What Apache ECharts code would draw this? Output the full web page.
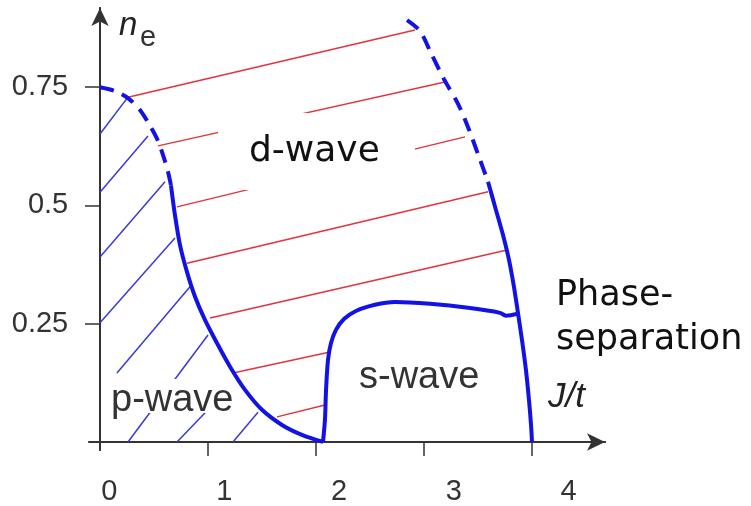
<!DOCTYPE html>
<html>
<head>
<meta charset="utf-8">
<script src="https://cdn.jsdelivr.net/npm/echarts@6/dist/echarts.min.js"></script>
<style>
html, body { margin: 0; padding: 0; background: #fff; }
#main { width: 751px; height: 506px; }
</style>
</head>
<body>
<div id="main"></div>
<script>
var xTicks = [1, 2, 3, 4];
var xInnerTicks = [1, 3];
var xTickLabels = [0, 1, 2, 3, 4];
var yTicks = [0.25, 0.5, 0.75];

// p-wave / d-wave border (dashed top, solid below)
var pdDashed = [[0, 0.750], [0.139, 0.742], [0.259, 0.727], [0.370, 0.702], [0.454, 0.672],
    [0.528, 0.641], [0.583, 0.607], [0.630, 0.571], [0.657, 0.543]];
var pdSolid = [[0.657, 0.543], [0.694, 0.480], [0.741, 0.416], [0.806, 0.359], [0.880, 0.307],
    [0.972, 0.258], [1.083, 0.209], [1.204, 0.159], [1.343, 0.110], [1.500, 0.068],
    [1.685, 0.036], [1.870, 0.015], [2.065, 0.0]];

// d-wave / phase separation border
var psDashed = [[2.843, 0.892], [2.963, 0.869], [3.065, 0.822], [3.185, 0.767], [3.315, 0.715],
    [3.417, 0.660], [3.509, 0.603], [3.593, 0.550]];
var psSolid = [[3.593, 0.550], [3.667, 0.490], [3.731, 0.438], [3.787, 0.385], [3.833, 0.328],
    [3.870, 0.273], [3.907, 0.216], [3.944, 0.152], [3.972, 0.089], [3.991, 0.036], [4.0, 0.0]];

// s-wave dome
var sDome = [[2.065, 0.0], [2.083, 0.047], [2.093, 0.110], [2.111, 0.173], [2.139, 0.209],
    [2.185, 0.237], [2.259, 0.260], [2.370, 0.277], [2.546, 0.290], [2.731, 0.296],
    [3.056, 0.292], [3.426, 0.283], [3.704, 0.273], [3.759, 0.267], [3.870, 0.271]];

// hatching of the d-wave region
var redHatch = [
    [[0.259, 0.729], [2.917, 0.871]],
    [[0.537, 0.626], [3.194, 0.761]],
    [[0.713, 0.497], [3.380, 0.645]],
    [[0.806, 0.378], [3.593, 0.529]],
    [[1.019, 0.262], [3.769, 0.406]],
    [[1.231, 0.146], [2.130, 0.190]],
    [[1.639, 0.053], [2.083, 0.078]]
];

// hatching of the p-wave region
var blueHatch = [
    [[0, 0.651], [0.259, 0.729]],
    [[0, 0.528], [0.444, 0.647]],
    [[0, 0.391], [0.602, 0.550]],
    [[0, 0.252], [0.694, 0.431]],
    [[0.157, 0.146], [0.833, 0.328]],
    [[0.259, 0], [1.0, 0.226]],
    [[0.713, 0], [1.222, 0.121]],
    [[1.231, 0], [1.463, 0.063]]
];

var chart = echarts.init(document.getElementById('main'));

var axisColor = '#333';
var blue = '#1212e6';

var labelFont = {
    fontSize: 29,
    fontFamily: 'Liberation Sans',
    color: '#333'
};

function curve(data, dashed) {
    return {
        type: 'line',
        data: data,
        showSymbol: false,
        smooth: 0.3,
        clip: false,
        z: 3,
        silent: true,
        lineStyle: {
            color: blue,
            width: 4,
            type: dashed ? [14, 9] : 'solid',
            cap: 'butt'
        }
    };
}

function hatch(segs, color) {
    return {
        type: 'lines',
        coordinateSystem: 'cartesian2d',
        polyline: false,
        z: 1,
        silent: true,
        lineStyle: { color: color, width: 1.5, opacity: 1 },
        data: segs.map(function (s) { return { coords: s }; })
    };
}

var option = {
    animation: false,
    grid: {
        left: 89.2,
        right: 146,
        top: 8,
        bottom: 56,
        outerBoundsMode: 'none'
    },
    xAxis: [{
        type: 'value',
        min: -0.1,
        max: 4.676,
        axisLine: {
            onZero: true,
            onZeroAxisIndex: 0,
            symbol: ['none', 'arrow'],
            symbolSize: [13, 18],
            lineStyle: { color: axisColor, width: 2 }
        },
        axisTick: { show: true, customValues: xTicks, length: 14, lineStyle: { color: axisColor, width: 1.5 } },
        axisLabel: { show: false },
        splitLine: { show: false }
    }, {
        type: 'value',
        min: -0.1,
        max: 4.676,
        axisLine: { show: true, onZero: true, onZeroAxisIndex: 0, lineStyle: { color: axisColor, width: 2 } },
        axisTick: { show: true, inside: true, customValues: xInnerTicks, length: 12, lineStyle: { color: axisColor, width: 1.5 } },
        axisLabel: { show: false },
        splitLine: { show: false }
    }, {
        // labels sit a little right of the ticks in the original sketch
        type: 'value',
        min: -0.176,
        max: 4.317,
        position: 'bottom',
        axisLine: { show: false, onZero: false },
        axisTick: { show: false },
        axisLabel: Object.assign({ customValues: xTickLabels, margin: 27 }, labelFont),
        splitLine: { show: false }
    }],
    yAxis: [{
        type: 'value',
        min: -0.017,
        max: 0.9175,
        axisLine: {
            onZero: true,
            onZeroAxisIndex: 0,
            symbol: ['none', 'arrow'],
            symbolSize: [13, 18],
            lineStyle: { color: axisColor, width: 2 }
        },
        axisTick: { show: true, customValues: yTicks, length: 15, lineStyle: { color: axisColor, width: 1.5 } },
        axisLabel: Object.assign({ customValues: yTicks, margin: 21 }, labelFont),
        splitLine: { show: false }
    }, {
        type: 'value',
        min: -0.017,
        max: 0.9175,
        axisLine: { show: true, onZero: true, onZeroAxisIndex: 0, lineStyle: { color: axisColor, width: 2 } },
        axisTick: { show: true, inside: true, customValues: yTicks, length: 10, lineStyle: { color: axisColor, width: 1.5 } },
        axisLabel: { show: false },
        splitLine: { show: false }
    }],
    series: [
        hatch(blueHatch, '#3a3ad8'),
        hatch(redHatch, '#e2343f'),
        curve(pdDashed, true),
        curve(pdSolid, false),
        curve(psDashed, true),
        curve(psSolid, false),
        curve(sDome, false)
    ],
    graphic: [
        { type: 'rect', z: 2, silent: true, shape: { x: 218, y: 113, width: 197, height: 77 }, style: { fill: '#fff' } },
        { type: 'rect', z: 2, silent: true, shape: { x: 106, y: 379, width: 134, height: 34 }, style: { fill: '#fff' } },
        { type: 'text', z: 4, style: { text: 'd-wave', x: 249, y: 152, fontSize: 36, fontFamily: 'DejaVu Sans', fill: '#111', align: 'left', verticalAlign: 'middle' } },
        { type: 'text', z: 4, style: { text: 'p-wave', x: 111, y: 401, fontSize: 38, fontFamily: 'Liberation Sans', fill: '#333', align: 'left', verticalAlign: 'middle' } },
        { type: 'text', z: 4, style: { text: 's-wave', x: 359, y: 378, fontSize: 38, fontFamily: 'Liberation Sans', fill: '#333', align: 'left', verticalAlign: 'middle' } },
        { type: 'text', z: 4, style: { text: 'Phase-', x: 556, y: 296, fontSize: 35, fontFamily: 'DejaVu Sans', fill: '#111', align: 'left', verticalAlign: 'middle' } },
        { type: 'text', z: 4, style: { text: 'separation', x: 556, y: 340, fontSize: 35, fontFamily: 'DejaVu Sans', fill: '#111', align: 'left', verticalAlign: 'middle' } },
        { type: 'text', z: 4, style: { text: 'J/t', x: 548, y: 397, fontSize: 35, fontStyle: 'italic', fontFamily: 'Liberation Sans', fill: '#222', align: 'left', verticalAlign: 'middle' } },
        { type: 'text', z: 4, style: { text: 'n', x: 119, y: 26, fontSize: 33, fontStyle: 'italic', fontFamily: 'Liberation Sans', fill: '#222', align: 'left', verticalAlign: 'middle' } },
        { type: 'text', z: 4, style: { text: 'e', x: 140, y: 38, fontSize: 29, fontFamily: 'Liberation Sans', fill: '#333', align: 'left', verticalAlign: 'middle' } }
    ]
};

chart.setOption(option);
</script>
</body>
</html>
